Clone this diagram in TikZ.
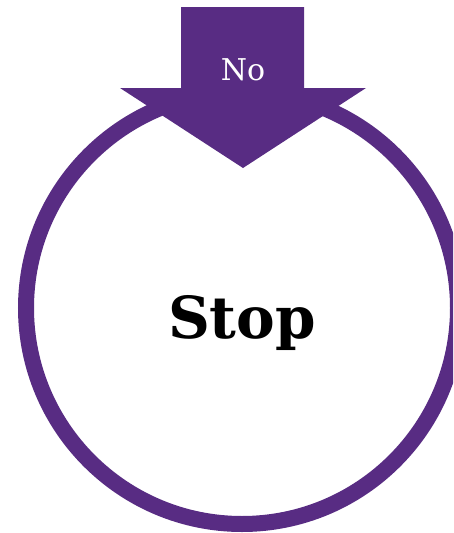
\documentclass[tikz,border=0pt]{standalone}
\usepackage{fontspec}
\setmainfont{DejaVu Serif}
\usepackage{tikz}
\definecolor{stoppurple}{RGB}{88,44,131}

\begin{document}
\begin{tikzpicture}[x=1pt,y=-1pt,
  ring/.style={circle,draw=stoppurple,line width=16pt,minimum size=432pt,inner sep=0pt},
  bigarrow/.style={fill=stoppurple},
  arrowtext/.style={text=white,font=\fontsize{30}{36}\selectfont,inner sep=0pt},
  ringtext/.style={text=black,font=\bfseries\fontsize{58}{70}\selectfont,inner sep=0pt,anchor=base}]
  \useasboundingbox (0,0) rectangle (453,533);
  \clip (0,0) rectangle (453,533);
  \node[ring] (stop) at (242,308) {};
  \node[ringtext] (stoptext) at (242,338) {Stop};
  % arrow coming in from the top
  \coordinate (tip) at (243,168);
  \fill[bigarrow] (181,7) -- (304,7) -- (304,88) -- (366,88) -- (tip) -- (120,88) -- (181,88) -- cycle;
  \node[arrowtext] (no) at (243,70) {No};
\end{tikzpicture}
\end{document}
